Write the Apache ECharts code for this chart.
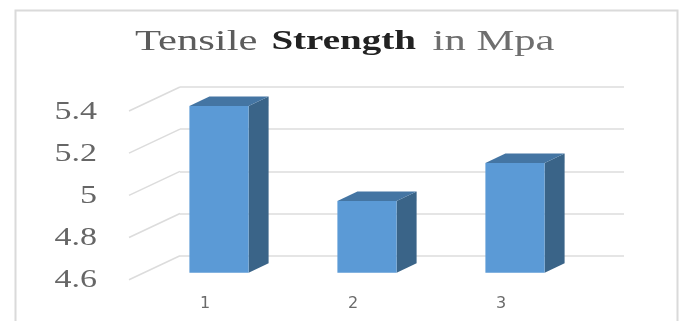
<!DOCTYPE html>
<html>
<head>
<meta charset="utf-8">
<style>html,body{margin:0;padding:0;background:#fff}#c{width:680px;height:321px}</style>
<script src="https://cdn.jsdelivr.net/npm/echarts@6/dist/echarts.min.js"></script>
</head>
<body>
<div id="c"></div>
<script>
const categories = ['1', '2', '3'];
const strength = [5.39, 4.94, 5.12];
const yTicks = [4.6, 4.8, 5, 5.2, 5.4];

// Pseudo-3D layout: the grid is the back wall, everything else is offset from it.
const WALL_DX = -51, WALL_DY = 24;      // back wall to front edge of the floor
const BAR_DX = -35, BAR_DY = 17;        // back wall to front face of a bar
const DEPTH_DX = 20, DEPTH_DY = -9.5;   // front face to rear face of a bar
const TITLE_STRETCH = 1.42;             // wide lettering of the heading
const TICK_STRETCH = 1.36;              // wide lettering of the value labels

const chart = echarts.init(document.getElementById('c'), null, { renderer: 'canvas' });

chart.setOption({
  animation: false,
  backgroundColor: '#fff',
  graphic: [
    {
      type: 'rect', z: 0, silent: true,
      shape: { x: 15.5, y: 10.5, width: 662, height: 330 },
      style: { fill: '#fff', stroke: '#dadada', lineWidth: 2 }
    },
    {
      type: 'text', z: 10, x: 135, y: 42, scaleX: TITLE_STRETCH, silent: true,
      style: {
        text: '{a|Tensile} {b|Strength}  {c|in Mpa}',
        verticalAlign: 'middle',
        rich: {
          a: { font: '30px "Liberation Serif"', fill: '#5c5c5c', padding: [0, 6.5, 0, 0] },
          b: { font: 'bold 27.5px "Liberation Serif"', fill: '#222', padding: [0, 5, 0, 0] },
          c: { font: '30px "Liberation Serif"', fill: '#6e6e6e' }
        }
      }
    }
  ],
  grid: { left: 180, right: 56, top: 87, bottom: 65.3, containLabel: false },
  xAxis: {
    type: 'category',
    data: categories,
    axisLine: { show: false },
    axisTick: { show: false },
    splitLine: { show: false },
    axisLabel: {
      margin: 40,
      padding: [0, 98, 0, 0],
      fontFamily: 'DejaVu Sans',
      fontSize: 16,
      color: '#6a6a6a'
    }
  },
  yAxis: {
    type: 'value',
    min: 4.6,
    max: 5.4,
    interval: 0.2,
    axisLine: { show: false },
    axisTick: { show: false },
    axisLabel: { show: false },
    splitLine: { lineStyle: { color: '#dcdcdc', width: 1.5 } }
  },
  series: [
    {
      // Side-wall lines and the value labels at their front ends
      type: 'custom',
      coordinateSystem: 'cartesian2d',
      silent: true,
      clip: false,
      z: 2,
      data: yTicks.map(v => [0, v]),
      encode: { x: 0, y: 1 },
      renderItem(params, api) {
        const v = api.value(1);
        const y = api.coord([0, v])[1];
        const x0 = params.coordSys.x;
        return {
          type: 'group',
          children: [
            {
              type: 'line',
              shape: { x1: x0, y1: y, x2: x0 + WALL_DX, y2: y + WALL_DY },
              style: { stroke: '#dcdcdc', lineWidth: 1.5 }
            },
            {
              type: 'text',
              x: 97, y: y + WALL_DY + 1,
              scaleX: TICK_STRETCH,
              style: {
                text: String(v),
                font: '25px "Liberation Serif"',
                fill: '#666',
                align: 'right',
                verticalAlign: 'middle'
              }
            }
          ]
        };
      }
    },
    {
      // Extruded columns: front, top and side faces
      type: 'custom',
      coordinateSystem: 'cartesian2d',
      silent: true,
      clip: false,
      z: 3,
      data: strength.map((v, i) => [i, v]),
      encode: { x: 0, y: 1 },
      renderItem(params, api) {
        const top = api.coord([api.value(0), api.value(1)]);
        const base = api.coord([api.value(0), 4.6]);
        const w = api.size([1, 0])[0] * 0.4;
        const l = top[0] + BAR_DX - w / 2, r = l + w;
        const t = top[1] + BAR_DY, b = base[1] + BAR_DY;
        return {
          type: 'group',
          children: [
            {
              type: 'polygon',
              shape: { points: [[r, t], [r + DEPTH_DX, t + DEPTH_DY], [r + DEPTH_DX, b + DEPTH_DY], [r, b]] },
              style: { fill: '#3a6488' }
            },
            {
              type: 'polygon',
              shape: { points: [[l, t], [l + DEPTH_DX, t + DEPTH_DY], [r + DEPTH_DX, t + DEPTH_DY], [r, t]] },
              style: { fill: '#4475a3' }
            },
            {
              type: 'rect',
              shape: { x: l, y: t, width: w, height: b - t },
              style: { fill: '#5b9ad6' }
            }
          ]
        };
      }
    }
  ]
});
</script>
</body>
</html>
